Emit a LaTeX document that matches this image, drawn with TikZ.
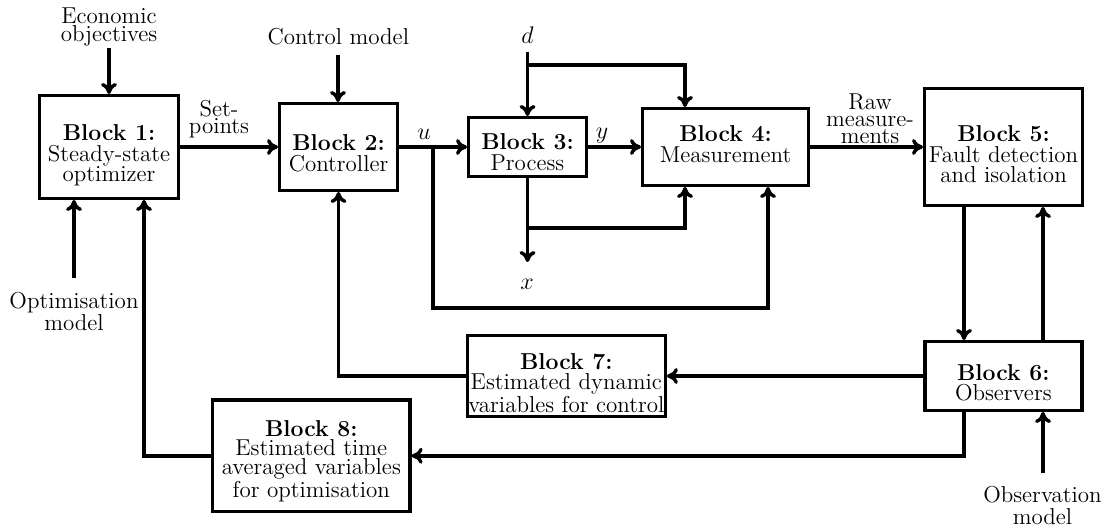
\documentclass[tikz,border=0pt]{standalone}
\usetikzlibrary{arrows.meta}
\tikzset{
  wire/.style={line width=1.7pt},
  arr/.style={wire, -{To[length=5.5pt,width=8pt]}},
  blockbox/.style={draw, line width=1.7pt, inner sep=0pt},
  lbl/.style={inner sep=0pt, align=center, font=\fontsize{11.5}{10.25}\selectfont},
}
\begin{document}
\begin{tikzpicture}[x=0.5pt, y=-0.5pt]
\useasboundingbox (0,0) rectangle (1106,529);

% ---- blocks (frames) ----
\node[blockbox, minimum width=69.3pt, minimum height=51.3pt] (b1) at (109,147) {};
\node[blockbox, minimum width=58.8pt, minimum height=43.3pt] (b2) at (338.5,147) {};
\node[blockbox, minimum width=58.8pt, minimum height=29.3pt] (b3) at (527.5,147) {};
\node[blockbox, minimum width=82.8pt, minimum height=38.3pt] (b4) at (725.5,147) {};
\node[blockbox, minimum width=78.8pt, minimum height=58.3pt] (b5) at (1003.5,147) {};
\node[blockbox, minimum width=78.5pt, minimum height=34.3pt] (b6) at (1003.3,376) {};
\node[blockbox, minimum width=98.9pt, minimum height=40.3pt] (b7) at (566.3,376) {};
\node[blockbox, minimum width=98.6pt, minimum height=55.8pt] (b8) at (311.3,455.8) {};

% ---- block texts ----
\node[lbl] (b1t) at (109,155.5) {\textbf{Block 1:}\\Steady-state\\optimizer};
\node[lbl] (b2t) at (338.5,153.1) {\textbf{Block 2:}\\Controller};
\node[lbl] (b3t) at (527.5,152.1) {\textbf{Block 3:}\\Process};
\node[lbl] (b4t) at (725.5,144.3) {\textbf{Block 4:}\\Measurement};
\node[lbl] (b5t) at (1003.5,154.5) {\textbf{Block 5:}\\Fault detection\\and isolation};
\node[lbl] (b6t) at (1003.3,382.6) {\textbf{Block 6:}\\Observers};
\node[lbl] (b7t) at (566.3,382.9) {\textbf{Block 7:}\\Estimated dynamic\\variables for control};
\node[lbl, font=\fontsize{11.5}{9.4}\selectfont] (b8t) at (311.3,461.3) {\textbf{Block 8:}\\Estimated time\\averaged variables\\for optimisation};

% ---- external inputs and signal labels ----
\node[lbl, font=\fontsize{11.5}{8.9}\selectfont] (eco) at (109,27.4) {Economic\\objectives};
\node[lbl, font=\fontsize{11.5}{9.3}\selectfont] (opt) at (74,311.7) {Optimisation\\model};
\node[lbl, anchor=base] (ctl) at (338.3,45) {Control model};
\node[lbl, font=\fontsize{11.5}{10.8}\selectfont] (obs) at (1042.5,505.8) {Observation\\model};
\node[lbl, font=\fontsize{11.5}{8.6}\selectfont] (sp) at (219,119.5) {Set-\\points};
\node[lbl, font=\fontsize{11.5}{8.6}\selectfont] (raw) at (870,119) {Raw\\measure-\\ments};
\node[lbl, anchor=base] (lu) at (424,140) {$u$};
\node[lbl, anchor=base] (ld) at (527.5,44) {$d$};
\node[lbl, anchor=base] (ly) at (602,139) {$y$};
\node[lbl, anchor=base] (lx) at (527,289) {$x$};

% ---- free ends and routing points ----
\coordinate (ecoin) at (109,48);
\coordinate (optin) at (74,278);
\coordinate (ctlin) at (338,55);
\coordinate (obsin) at (1043,473);
\coordinate (dtop) at (527.5,52);
\coordinate (dbr) at (527.5,65);
\coordinate (dcol) at (685,0);
\coordinate (ubr) at (433,147);
\coordinate (ulow) at (768,308);
\coordinate (xbr) at (527.5,228);
\coordinate (xend) at (527.5,262);
\coordinate (down56) at (964,0);
\coordinate (up65) at (1043,0);
\coordinate (fb81) at (144,0);

% ---- connectors ----
\draw[arr] (ecoin) -- (b1.north);
\draw[arr] (optin) -- (optin |- b1.south);
\draw[arr] (b1.east) -- (b2.west);
\draw[arr] (ctlin) -- (ctlin |- b2.north);
\draw[arr] (b2.east) -- (b3.west);
\draw[arr] (ubr) |- (ulow) -- (ulow |- b4.south);
\draw[arr] (dtop) -- (b3.north);
\draw[arr] (dbr) -| (dcol |- b4.north);
\draw[arr] (b3.east) -- (b4.west);
\draw[arr] (b3.south) -- (xend);
\draw[arr] (xbr) -| (dcol |- b4.south);
\draw[arr] (b4.east) -- (b5.west);
\draw[arr] (down56 |- b5.south) -- (down56 |- b6.north);
\draw[arr] (up65 |- b6.north) -- (up65 |- b5.south);
\draw[arr] (obsin) -- (obsin |- b6.south);
\draw[arr] (b6.west) -- (b7.east);
\draw[arr] (b7.west) -| (b2.south);
\draw[arr] (down56 |- b6.south) |- (b8.east);
\draw[arr] (b8.west) -| (fb81 |- b1.south);
\end{tikzpicture}
\end{document}
